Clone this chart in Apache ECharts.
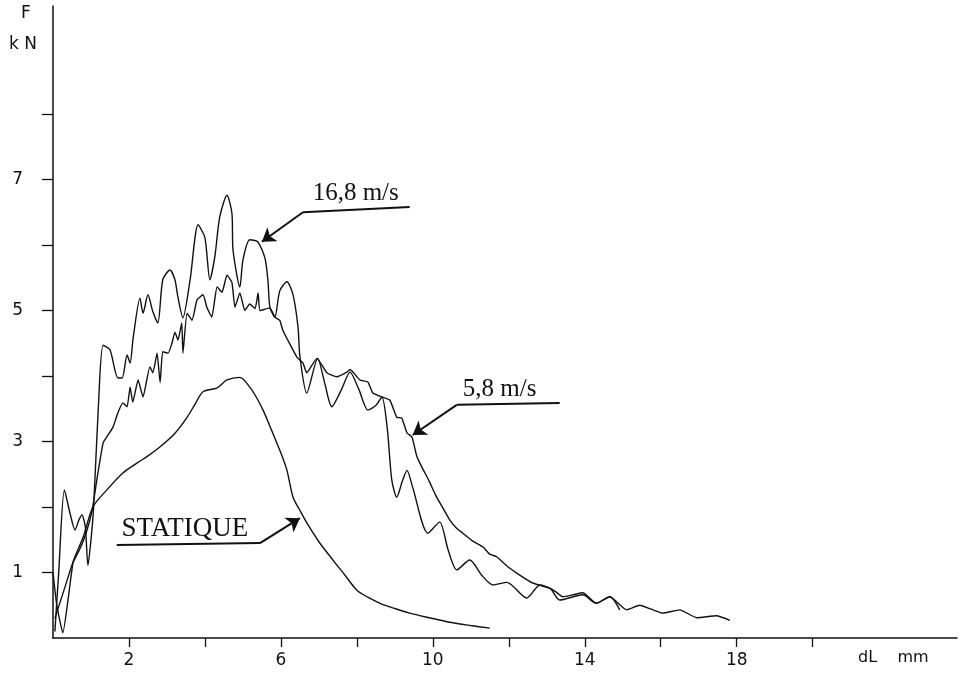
<!DOCTYPE html>
<html>
<head>
<meta charset="utf-8">
<script src="https://cdn.jsdelivr.net/npm/echarts@6/dist/echarts.min.js"></script>
<style>html,body{margin:0;padding:0;background:#fff}#c{width:973px;height:679px}</style>
</head>
<body>
<div id="c"></div>
<script>
// ---- data (dL in mm, F in kN) ----
const xTicks = [2, 4, 6, 8, 10, 12, 14, 16, 18, 20];
const xTickLabels = [2, 6, 10, 14, 18];
const yTicks = [1, 2, 3, 4, 5, 6, 7, 8];
const yTickLabels = [1, 3, 5, 7];

const statique = [[0.05,0.3],[0.3,0.75],[0.55,1.2],[0.8,1.55],[1.05,2.0],[1.4,2.25],[1.84,2.52],[2.21,2.67],[2.5,2.78],[2.82,2.92],[3.2,3.12],[3.53,3.37],[3.75,3.58],[3.95,3.76],[4.32,3.82],[4.58,3.94],[4.92,3.98],[5.18,3.83],[5.35,3.68],[5.53,3.48],[5.7,3.25],[5.89,2.98],[6.03,2.78],[6.16,2.56],[6.32,2.15],[6.5,1.95],[6.68,1.76],[7.0,1.47],[7.37,1.19],[7.7,0.95],[8.0,0.73],[8.3,0.62],[8.61,0.53],[9.0,0.45],[9.39,0.38],[9.9,0.31],[10.45,0.24],[11.0,0.19],[11.5,0.15]];

const v58 = [[0,1.0],[0.1,0.5],[0.26,0.08],[0.4,0.6],[0.53,1.15],[0.7,1.35],[0.87,1.6],[1.03,1.95],[1.15,2.4],[1.32,2.98],[1.45,3.1],[1.58,3.22],[1.71,3.44],[1.84,3.59],[1.95,3.53],[2.03,3.83],[2.1,3.6],[2.24,3.94],[2.37,3.68],[2.55,4.14],[2.63,4.05],[2.74,4.35],[2.82,3.9],[2.89,4.37],[3.03,4.35],[3.13,4.5],[3.21,4.67],[3.29,4.55],[3.39,4.81],[3.42,4.35],[3.53,4.96],[3.66,4.85],[3.79,5.16],[3.95,5.24],[4.05,5.05],[4.18,4.9],[4.32,5.36],[4.45,5.28],[4.58,5.54],[4.71,5.43],[4.79,5.05],[4.92,5.27],[5.05,5.0],[5.18,5.1],[5.32,5.03],[5.4,5.27],[5.45,5.0],[5.71,5.04],[5.84,4.9],[5.97,4.85],[6.05,4.7],[6.18,4.55],[6.42,4.29],[6.58,4.2],[6.68,4.05],[6.95,4.27],[7.21,4.05],[7.47,3.99],[7.74,4.06],[7.82,4.1],[8.08,3.94],[8.29,3.91],[8.42,3.74],[8.66,3.68],[8.87,3.63],[9.05,3.37],[9.18,3.36],[9.32,3.13],[9.45,3.07],[9.58,2.77],[9.71,2.61],[9.9,2.4],[10.1,2.15],[10.3,1.95],[10.45,1.8],[10.62,1.68],[10.79,1.6],[11.05,1.48],[11.32,1.39],[11.5,1.28],[11.68,1.24],[11.95,1.1],[12.21,0.99],[12.45,0.9],[12.63,0.84],[12.85,0.8],[13.08,0.76],[13.25,0.7],[13.42,0.63],[13.7,0.66],[13.95,0.69],[14.3,0.53],[14.66,0.63],[15.1,0.43],[15.45,0.5],[15.75,0.44],[16.05,0.38],[16.5,0.43],[16.95,0.31],[17.47,0.34],[17.82,0.27]];

const v168 = [[0.05,0.1],[0.15,1.0],[0.3,2.26],[0.45,1.9],[0.58,1.65],[0.68,1.8],[0.76,1.88],[0.85,1.7],[0.92,1.11],[1.0,1.5],[1.07,2.0],[1.2,3.6],[1.32,4.47],[1.5,4.4],[1.71,3.97],[1.82,3.97],[1.95,4.32],[2.03,4.2],[2.11,4.58],[2.29,5.19],[2.37,4.96],[2.5,5.24],[2.63,4.98],[2.76,4.81],[2.89,5.47],[3.08,5.62],[3.21,5.47],[3.29,5.2],[3.42,4.89],[3.61,5.47],[3.82,6.31],[4.0,6.11],[4.13,5.47],[4.26,5.82],[4.39,6.43],[4.58,6.76],[4.71,6.49],[4.74,5.92],[4.92,5.36],[5.0,5.77],[5.18,6.08],[5.39,6.05],[5.58,5.8],[5.66,5.45],[5.71,5.05],[5.84,4.9],[5.97,5.3],[6.16,5.44],[6.32,5.24],[6.45,4.75],[6.5,4.3],[6.68,3.74],[6.97,4.27],[7.15,3.9],[7.34,3.53],[7.6,3.8],[7.82,4.06],[8.05,3.8],[8.29,3.48],[8.5,3.55],[8.66,3.68],[8.8,3.2],[8.92,2.41],[9.05,2.15],[9.2,2.4],[9.32,2.56],[9.47,2.3],[9.87,1.6],[10.18,1.77],[10.4,1.35],[10.63,1.04],[10.97,1.19],[11.3,0.95],[11.58,0.81],[11.95,0.85],[12.47,0.61],[12.82,0.81],[13.1,0.75],[13.34,0.58],[13.95,0.66],[14.3,0.53],[14.66,0.63],[14.92,0.43]];

// annotation anchors in data units: text position, underline ends, arrow start (one underline end) and arrow head
const ann168 = {text: '16,8 m/s', size: 25, at: [7.97, 6.79], u0: [6.58, 6.5], u1: [9.39, 6.58], from: 'u0', head: [5.5, 6.05]};
const ann58  = {text: '5,8 m/s',  size: 25, at: [11.76, 3.8], u0: [10.63, 3.56], u1: [13.34, 3.59], from: 'u0', head: [9.47, 3.1]};
const annSt  = {text: 'STATIQUE', size: 27, at: [3.47, 1.66], u0: [1.68, 1.42], u1: [5.45, 1.45], from: 'u1', head: [6.5, 1.83]};

const ink = '#111';
const anns = [ann168, ann58, annSt];
const markLines = [];
const markPoints = [];
anns.forEach(a => {
  markLines.push([{coord: a.u0, symbol: 'none'}, {coord: a.u1, symbol: 'none'}]);
  markLines.push([{coord: a[a.from], symbol: 'none'}, {coord: a.head, symbol: 'arrow'}]);
  markPoints.push({coord: a.at, value: a.text, label: {fontSize: a.size}});
});

const lineSeries = (name, data, smooth) => ({
  name, type: 'line', data, showSymbol: false, smooth,
  lineStyle: {color: ink, width: 1.4}, silent: true
});

const chart = echarts.init(document.getElementById('c'));
chart.setOption({
  animation: false,
  backgroundColor: '#fff',
  grid: {left: 53, top: 6, right: 16, bottom: 41},
  xAxis: {
    type: 'value', min: 0, max: 23.8,
    axisLine: {lineStyle: {color: ink, width: 1.5}},
    axisTick: {show: true, length: 9, lineStyle: {color: ink, width: 1.3}, customValues: xTicks},
    axisLabel: {customValues: xTickLabels, color: ink, fontFamily: 'DejaVu Sans', fontSize: 17, margin: 14},
    splitLine: {show: false}
  },
  yAxis: {
    type: 'value', min: 0, max: 9.65,
    axisLine: {show: true, lineStyle: {color: ink, width: 1.5}},
    axisTick: {show: true, length: 11, lineStyle: {color: ink, width: 1.3}, customValues: yTicks},
    axisLabel: {customValues: yTickLabels, color: ink, fontFamily: 'DejaVu Sans', fontSize: 17, margin: 30},
    splitLine: {show: false}
  },
  graphic: [
    {type: 'text', left: 21, top: 5, style: {text: 'F', fill: ink, font: '17px DejaVu Sans'}},
    {type: 'text', left: 9, top: 36, style: {text: 'k N', fill: ink, font: '17px DejaVu Sans'}},
    {type: 'text', left: 858, top: 650, style: {text: 'dL    mm', fill: ink, font: '16px DejaVu Sans'}}
  ],
  series: [
    lineSeries('STATIQUE', statique, 0.3),
    lineSeries('5,8 m/s', v58, 0.15),
    lineSeries('16,8 m/s', v168, 0.25),
    {
      type: 'line', data: [], silent: true,
      markLine: {
        silent: true, symbolSize: 13, animation: false,
        lineStyle: {color: ink, width: 2, type: 'solid'},
        label: {show: false},
        data: markLines
      },
      markPoint: {
        silent: true, symbol: 'circle', symbolSize: 1, animation: false,
        itemStyle: {color: 'rgba(0,0,0,0)'},
        label: {show: true, position: 'inside', color: ink, fontFamily: 'Liberation Serif', fontSize: 25, formatter: p => p.value},
        data: markPoints
      }
    }
  ]
});
</script>
</body>
</html>
